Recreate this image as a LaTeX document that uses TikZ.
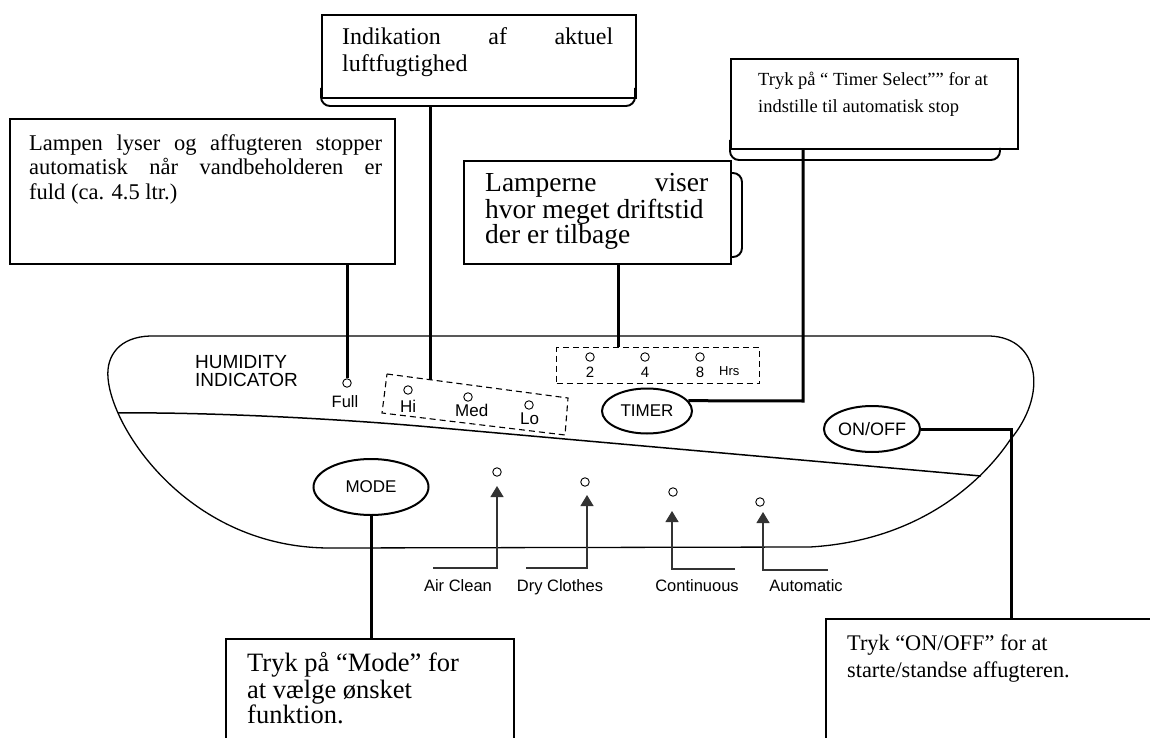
\documentclass[tikz,border=0pt]{standalone}
\usepackage{fontspec}
\setmainfont{Liberation Serif}
\newfontfamily\panelfont{Liberation Sans}
\usetikzlibrary{arrows.meta,shapes.geometric}
\newcommand\fInd{\fontsize{24}{28}\selectfont}
\newcommand\fLamp{\fontsize{22.5}{26}\selectfont}
\newcommand\fLampe{\fontsize{27.5}{30}\selectfont}
\newcommand\fTim{\fontsize{18.5}{22}\selectfont}
\newcommand\fMode{\fontsize{26.5}{30}\selectfont}
\newcommand\fOn{\fontsize{22.3}{26}\selectfont}
\newcommand\pf[1]{\panelfont\fontsize{#1}{#1}\selectfont}
\begin{document}
\begin{tikzpicture}[x=1pt,y=-1pt,
  callbox/.style={draw,line width=1.9pt,inner sep=0pt,anchor=north west},
  bracketline/.style={line width=1.9pt,rounded corners=9pt},
  callline/.style={line width=3pt},
  btxt/.style={anchor=base west,inner sep=0pt},
  led/.style={circle,draw,line width=0.9pt,minimum size=8.5pt,inner sep=0pt},
  pbtn/.style={ellipse,draw,line width=2pt,inner sep=0pt},
  ptxt/.style={inner sep=0pt,anchor=base},
  dashbox/.style={draw,line width=1.1pt,dash pattern=on 6pt off 4pt},
  modearr/.style={line width=1.2pt,draw=black!80,-{Triangle[width=13pt,length=11pt]}},
]
\path[use as bounding box] (0,0) rectangle (1150,738);
\clip (0,0) rectangle (1150,738);
\fill[white] (0,0) rectangle (1150,738);

% ---------- panel ----------
\draw[line width=1.3pt] (150,336) -- (990,336)
  .. controls (1040,338) and (1048,395) .. (1010,440)
  .. controls (990,470) and (930,540) .. (810,547)
  -- (330,548)
  .. controls (190,548) and (112,430) .. (108,378)
  .. controls (106,355) and (120,337) .. (150,336) -- cycle;
\draw[line width=1.5pt] (118,413) .. controls (200,412) and (330,418) .. (430,427) -- (981,476);

% humidity indicator
\node[btxt,font=\pf{19}] (hum1) at (195,368) {HUMIDITY};
\node[btxt,font=\pf{19}] (hum2) at (195,386) {INDICATOR};
\node[led] (full) at (347,383) {};
\node[ptxt,font=\pf{16.5}] (fulltxt) at (345,407) {Full};

% Hi / Med / Lo
\draw[dashbox] (387,374) -- (568,398) -- (565,435) -- (382,413) -- cycle;
\coordinate (hml-top) at (430,380);
\node[led] (hi) at (408,390) {};
\node[led] (med) at (468,397) {};
\node[led] (lo) at (529,405) {};
\node[btxt,font=\pf{17}] (hitxt) at (400,412) {Hi};
\node[btxt,font=\pf{17}] (medtxt) at (455,416) {Med};
\node[btxt,font=\pf{17}] (lotxt) at (520,424) {Lo};

% hours
\node[dashbox,inner sep=0pt,minimum width=203pt,minimum height=36pt,anchor=north west] (hrsbox) at (556,347) {};
\coordinate (lmp-in) at (618,347);
\node[led] (h2) at (590,357) {};
\node[led] (h4) at (645,357) {};
\node[led] (h8) at (700,357) {};
\node[ptxt,font=\pf{15}] (t2) at (590,377) {2};
\node[ptxt,font=\pf{15}] (t4) at (645,377) {4};
\node[ptxt,font=\pf{15}] (t8) at (700,377) {8};
\node[btxt,font=\pf{13}] (hrs) at (719,375) {Hrs};

% buttons
\node[pbtn,minimum width=90pt,minimum height=45pt,font=\pf{17}] (timerbtn) at (647,411) {TIMER};
\node[pbtn,minimum width=95pt,minimum height=46pt,font=\pf{18}] (onoff) at (872,429) {ON/OFF};
\node[pbtn,minimum width=115pt,minimum height=56pt,font=\pf{17}] (modebtn) at (371,487) {MODE};

% mode lamps and arrows
\node[led] (l-ac) at (497,472) {};
\node[led] (l-dc) at (585,482) {};
\node[led] (l-co) at (673,492) {};
\node[led] (l-au) at (760,502) {};
\coordinate (ac-s) at (433,568); \coordinate (ac-c) at (497,568); \coordinate (ac-t) at (497,486);
\coordinate (dc-s) at (526,568); \coordinate (dc-c) at (587,568); \coordinate (dc-t) at (587,495);
\coordinate (co-s) at (735,569); \coordinate (co-c) at (672,569); \coordinate (co-t) at (672,511);
\coordinate (au-s) at (828,570); \coordinate (au-c) at (763,570); \coordinate (au-t) at (763,512);
\draw[modearr] (ac-s) -- (ac-c) -- (ac-t);
\draw[modearr] (dc-s) -- (dc-c) -- (dc-t);
\draw[modearr] (co-s) -- (co-c) -- (co-t);
\draw[modearr] (au-s) -- (au-c) -- (au-t);
\node[ptxt,font=\pf{16.5}] (ac) at (458,591) {Air Clean};
\node[ptxt,font=\pf{16.5}] (dc) at (560,591) {Dry Clothes};
\node[ptxt,font=\pf{16.5}] (co) at (697,591) {Continuous};
\node[ptxt,font=\pf{16.5}] (au) at (806,591) {Automatic};

% ---------- callout boxes ----------
% Indikation
\node[callbox,minimum width=314pt,minimum height=83pt] (indik) at (321,14) {};
\draw[bracketline] (321,88) -- (321,106) -- (635,106) -- (635,88);
\coordinate (ind-br) at (430,106);
\node[btxt,font=\fInd] (indik1) at (342,45) {\makebox[271pt][s]{Indikation af aktuel}};
\node[btxt,font=\fInd] (indik2) at (342,72) {luftfugtighed};

% Lampen
\node[callbox,minimum width=385pt,minimum height=145pt] (lampen) at (9,118) {};
\node[btxt,font=\fLamp] (lampen1) at (29,151) {\makebox[353pt][s]{Lampen lyser og affugteren stopper}};
\node[btxt,font=\fLamp] (lampen2) at (29,175) {\makebox[353pt][s]{automatisk når vandbeholderen er}};
\node[btxt,font=\fLamp] (lampen3) at (29,199) {fuld (ca. 4.5 ltr.)};

% Timer select
\node[callbox,minimum width=287pt,minimum height=90pt] (timerbox) at (730,58) {};
\draw[bracketline] (730,140) -- (730,160) -- (1000,160) -- (1000,148);
\node[btxt,font=\fTim] (timer1) at (758,86) {Tryk på “ Timer Select”" for at};
\node[btxt,font=\fTim] (timer2) at (758,113) {indstille til automatisk stop};
\coordinate (tc) at (803,401);

% Lamperne
\node[callbox,minimum width=267pt,minimum height=103pt,fill=white] (lamperne) at (463,160) {};
\draw[bracketline] (730,173) -- (742,173) -- (742,257) -- (730,257);
\node[btxt,font=\fLampe] (lampe1) at (485,192) {\makebox[223pt][s]{Lamperne viser}};
\node[btxt,font=\fLampe] (lampe2) at (485,218) {hvor meget driftstid};
\node[btxt,font=\fLampe] (lampe3) at (485,243) {der er tilbage};

% Mode box
\node[callbox,minimum width=288pt,minimum height=130pt] (modebox) at (225,638) {};
\node[btxt,font=\fMode] (mode1) at (247,671) {Tryk på “Mode” for};
\node[btxt,font=\fMode] (mode2) at (247,698) {at vælge ønsket};
\node[btxt,font=\fMode] (mode3) at (247,723) {funktion.};

% ON/OFF box
\node[callbox,minimum width=345pt,minimum height=140pt] (onbox) at (825,618) {};
\coordinate (on-in) at (1011,618);
\node[btxt,font=\fOn] (on1) at (847,650) {Tryk “ON/OFF” for at};
\node[btxt,font=\fOn] (on2) at (847,677) {starte/standse affugteren.};

% ---------- connectors ----------
\draw[callline] (lampen.south -| full) -- (full.north);
\draw[callline] (ind-br) -- (hml-top);
\draw[callline] (lamperne.south -| lmp-in) -- (lmp-in);
\draw[callline] (timerbox.south -| tc) -- (tc) -- (timerbtn.14);
\draw[callline] (modebtn.south) -- (modebtn.south |- modebox.north);
\draw[callline] (onoff.east) -| (on-in);
\end{tikzpicture}
\end{document}
